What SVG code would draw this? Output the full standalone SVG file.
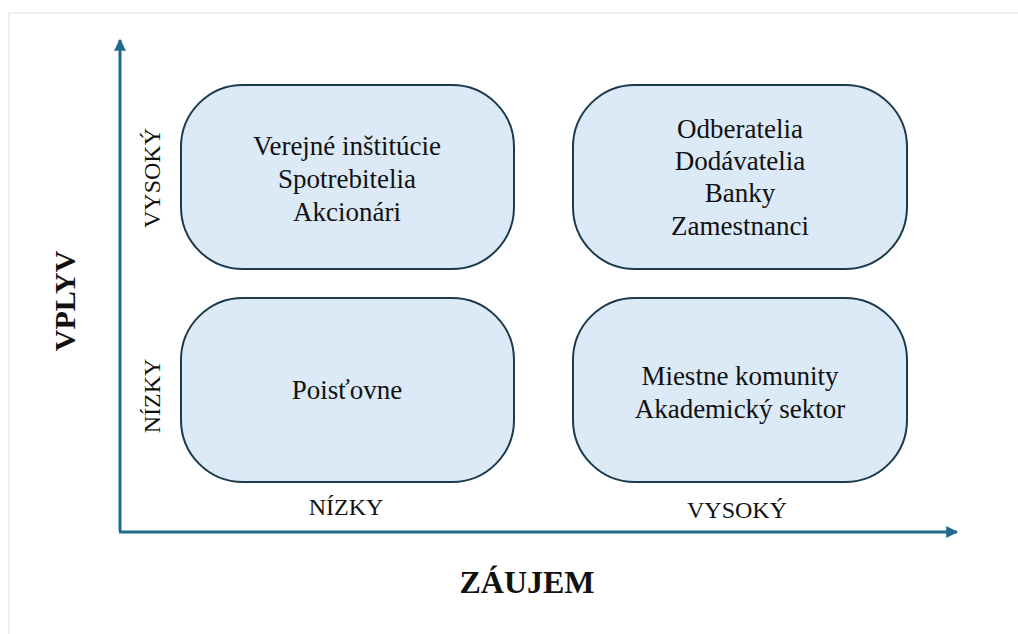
<svg xmlns="http://www.w3.org/2000/svg" width="1018" height="634" viewBox="0 0 1018 634">
<style>
.box{fill:#dce9f6;stroke:#1b3a4b;stroke-width:2}
text{font-family:"Liberation Serif","Times New Roman",serif;fill:#111;text-anchor:middle}
.t{font-size:27px}
.lab{font-size:24px}
.big{font-size:32px;font-weight:bold}
.axis{stroke:#1f6a8f;stroke-width:3;fill:none}
</style>
<defs>
<marker id="ah" viewBox="0 0 10 10" refX="9" refY="5" markerWidth="4" markerHeight="4" orient="auto" markerUnits="strokeWidth">
<path d="M0,0 L10,5 L0,10 Z" fill="#1f6a8f"/>
</marker>
</defs>
<rect width="1018" height="634" fill="#fff"/>
<rect x="9" y="13" width="1020" height="640" fill="none" stroke="#ececec" stroke-width="1.5"/>
<g id="connectors">
<path class="axis" d="M120,531 L120,40" marker-end="url(#ah)"/>
<path class="axis" d="M119,532 L957,532" marker-end="url(#ah)"/>
</g>
<g id="n1">
<rect class="box" x="181" y="85" width="333" height="184" rx="62"/>
<text class="t" x="347" y="155">Verejné inštitúcie</text>
<text class="t" x="347" y="188">Spotrebitelia</text>
<text class="t" x="347" y="221">Akcionári</text>
</g>
<g id="n2">
<rect class="box" x="573" y="85" width="334" height="184" rx="62"/>
<text class="t" x="740" y="138">Odberatelia</text>
<text class="t" x="740" y="170">Dodávatelia</text>
<text class="t" x="740" y="202">Banky</text>
<text class="t" x="740" y="235">Zamestnanci</text>
</g>
<g id="n3">
<rect class="box" x="181" y="298" width="333" height="184" rx="62"/>
<text class="t" x="347" y="399">Poisťovne</text>
</g>
<g id="n4">
<rect class="box" x="573" y="298" width="334" height="184" rx="62"/>
<text class="t" x="740" y="385">Miestne komunity</text>
<text class="t" x="740" y="418">Akademický sektor</text>
</g>
<g id="labels">
<text class="lab" x="346" y="515">NÍZKY</text>
<text class="lab" x="737" y="518">VYSOKÝ</text>
<text class="lab" transform="translate(160,178) rotate(-90)">VYSOKÝ</text>
<text class="lab" transform="translate(160,396) rotate(-90)">NÍZKY</text>
<text class="big" style="font-size:30px" transform="translate(75,301) rotate(-90)">VPLYV</text>
<text class="big" x="527" y="593">ZÁUJEM</text>
</g>
</svg>
